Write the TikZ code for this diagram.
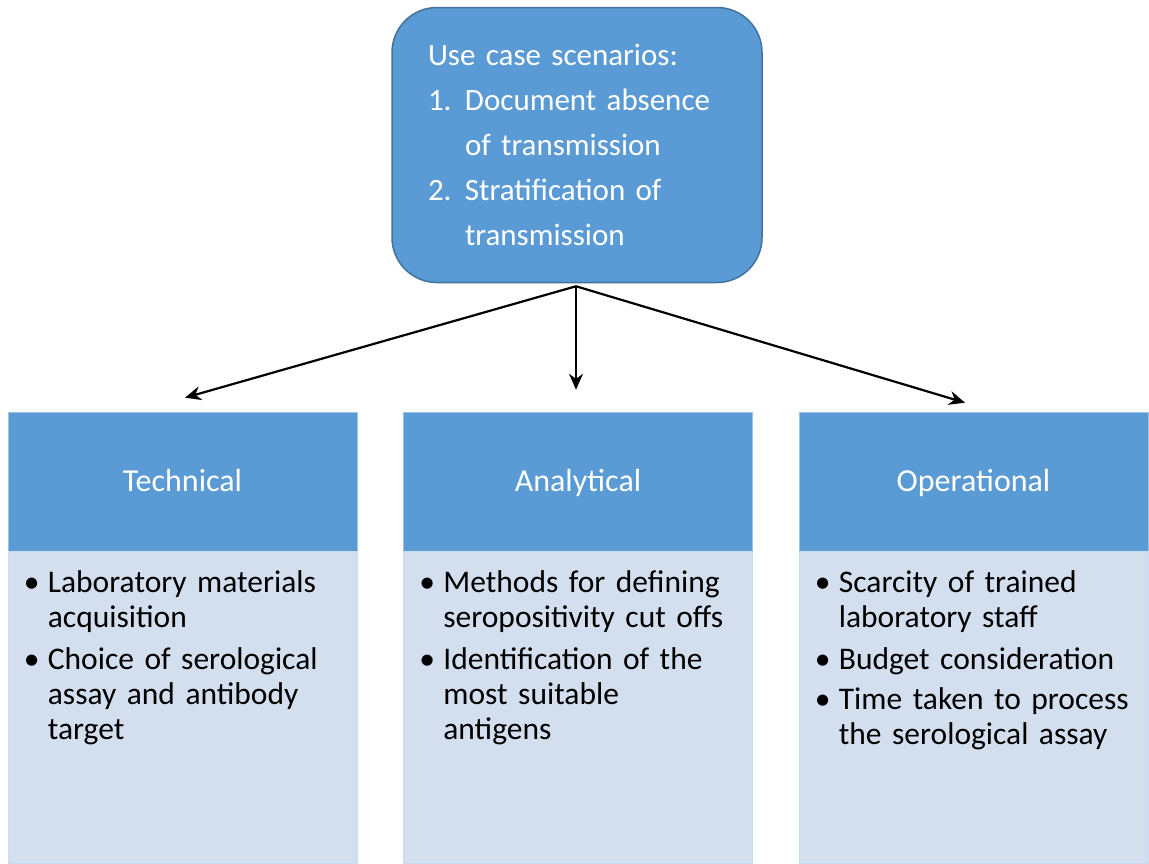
\documentclass[tikz,border=0pt]{standalone}
\usepackage{fontspec}
\setmainfont{Carlito}
\usepackage{xcolor}
\usetikzlibrary{arrows.meta,positioning,calc}

\definecolor{headblue}{HTML}{5B9BD5}
\definecolor{edgeblue}{HTML}{41719C}
\definecolor{bodyblue}{HTML}{D3DFEE}

\newcommand{\bitem}[1]{\par\hangindent=24pt\hangafter=1\noindent\makebox[24pt][l]{\textbullet}#1\par}
\newcommand{\nitem}[2]{\par\hangindent=37pt\hangafter=1\noindent\makebox[37pt][l]{#1}#2\par}

\begin{document}
\begin{tikzpicture}[x=1pt,y=-1pt,
      scenbox/.style={rectangle,rounded corners=45pt,draw=edgeblue,line width=1.5pt,fill=headblue,
        text=white,minimum width=370pt,minimum height=275pt,inner xsep=36pt,text width=298pt,align=left,
        font=\fontsize{31}{45}\selectfont},
      headbox/.style={rectangle,draw=headblue!60!white,line width=0.6pt,fill=headblue,text=white,
        minimum width=349pt,minimum height=139pt,inner sep=0pt,text height=20pt,text depth=0pt,
        font=\fontsize{32}{36}\selectfont},
      bodybox/.style={rectangle,draw=headblue!35!white,line width=0.6pt,fill=bodyblue,
        minimum width=349pt,minimum height=312pt,inner sep=0pt,anchor=north},
      bodytext/.style={anchor=north west,text width=335pt,align=left,inner sep=0pt,
        font=\fontsize{31.5}{35}\selectfont},
      link/.style={-{Stealth[length=16pt,width=14pt]},line width=2.2pt,black}]
    \useasboundingbox (0,0) rectangle (1149,863);

    % scenarios
    \node[scenbox] (scen) at (577,145) {%
      Use case scenarios:\par
      \nitem{1.}{Document absence\newline of transmission}
      \nitem{2.}{Stratification of\newline transmission}};

    % columns
    \foreach \cx/\name/\title in {182.5/tech/Technical,578/anal/Analytical,973.5/oper/Operational} {
      \node[headbox] (\name) at (\cx,481.5) {\title};
      \node[bodybox] (\name body) at (\name.south) {};
    }

    \node[bodytext] (techtext) at ($(techbody.north west)+(16,6)$) {%
      \bitem{Laboratory materials\newline acquisition}\vspace{7pt}
      \bitem{Choice of serological\newline assay and antibody\newline target}};
    \node[bodytext] (analtext) at ($(analbody.north west)+(16,6)$) {%
      \bitem{Methods for defining\newline seropositivity cut offs}\vspace{7pt}
      \bitem{Identification of the\newline most suitable\newline antigens}};
    \node[bodytext] (opertext) at ($(operbody.north west)+(16,6)$) {%
      \bitem{Scarcity of trained\newline laboratory staff}\vspace{7pt}
      \bitem{Budget consideration}\vspace{5pt}
      \bitem{Time taken to process\newline the serological assay}};

    % links
    \coordinate (fork) at ($(scen.south)+(-1,3)$);
    \coordinate (techend) at ($(tech.north)+(2.5,-14)$);
    \coordinate (analend) at ($(anal.north)+(-2,-22)$);
    \coordinate (operend) at ($(oper.north)+(-8.5,-9)$);
    \draw[link] (fork) -- (techend);
    \draw[link] (fork) -- (analend);
    \draw[link] (fork) -- (operend);
  \end{tikzpicture}
\end{document}
